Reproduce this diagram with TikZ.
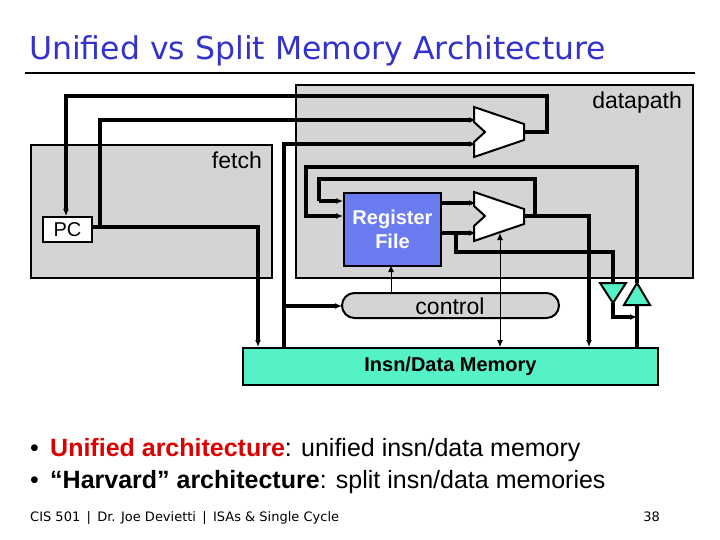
\documentclass[tikz,border=0pt]{standalone}
\usepackage{fontspec}
\setmainfont{Liberation Sans}
\newfontfamily\tahoma{DejaVu Sans}
\usetikzlibrary{arrows.meta}
\definecolor{boxgray}{HTML}{D4D4D4}
\definecolor{rfblue}{HTML}{6A7CF0}
\definecolor{memgreen}{HTML}{55F2C8}
\definecolor{titleblue}{HTML}{3333CC}
\definecolor{bulred}{HTML}{DD0000}
\tikzset{
  wire/.style={line width=3.4pt},
  thin/.style={line width=1pt},
  arr/.style={-{Latex[length=7pt,width=6pt]}},
  block/.style={draw, line width=2pt},
  lbl/.style={font=\fontsize{23}{23}\selectfont, inner sep=0pt},
}
\begin{document}
\begin{tikzpicture}[x=1pt,y=-1pt]
\useasboundingbox (0,0) rectangle (720,540);
% title
\node[anchor=base west, inner sep=0pt, text=titleblue, font=\tahoma\fontsize{31.5}{31.5}\selectfont] (title) at (29,60) {Unified vs Split Memory Architecture};
\draw[line width=2.5pt] (25,73) -- (695,73);
% boxes
\node[block, fill=boxgray, minimum width=397pt, minimum height=193pt, anchor=north west] (dp) at (295,84) {};
\node[block, fill=boxgray, minimum width=241pt, minimum height=133pt, anchor=north west] (fe) at (30,144) {};
\node[lbl, anchor=north east] (dpl) at (682,92) {datapath};
\node[lbl, anchor=north east] (fel) at (262,152) {fetch};
\node[block, fill=white, minimum width=49pt, minimum height=25pt, anchor=north west, font=\fontsize{20}{20}\selectfont] (pc) at (42,216) {PC};
\node[block, fill=rfblue, minimum width=97pt, minimum height=73pt, anchor=north west, text=white, align=center, font=\bfseries\fontsize{20}{24}\selectfont] (rf) at (343,192) {Register\\File};
\node[block, fill=memgreen, minimum width=415pt, minimum height=37pt, anchor=north west, font=\bfseries\fontsize{20}{20}\selectfont] (mem) at (242,347) {Insn/Data Memory};
\draw[block, fill=boxgray, rounded corners=12.5pt] (342,293) rectangle (559,318);
\node[lbl] (ctl) at (450,306) {control};
% ALUs
\draw[block, fill=white] (474,107) -- (524,124) -- (524,140) -- (474,157) -- (474,142) -- (485,132) -- (474,122) -- cycle;
\draw[block, fill=white] (474,192) -- (524,209) -- (524,224) -- (474,241) -- (474,226) -- (485,216) -- (474,206) -- cycle;
\coordinate (a1o) at (524,132);
\coordinate (a2o) at (524,216);
% buffers
\draw[block, fill=memgreen] (600,283) -- (626,283) -- (613,303) -- cycle;
\draw[block, fill=memgreen] (624,305) -- (650,305) -- (637,283) -- cycle;
% fetch wires
\draw[wire, arr] (a1o) -- (547,132) -- (547,96) -- (66,96) -- (pc.north -| 66,0);
\draw[wire, arr] (100,227) -- (100,120) -- (476,120);
\draw[wire, arr] (pc.east |- 0,227) -- (258,227) -- (258,347);
\draw[wire, arr] (284,347) -- (284,144) -- (476,144);
\draw[wire, arr] (284,306) -- (342,306);
% datapath wires
\draw[wire, arr] (440,203) -- (476,203);
\draw[wire, arr] (440,233) -- (476,233);
\draw[wire] (a2o) -- (535,216) -- (535,179) -- (319,179) -- (319,201);
\draw[wire, arr] (319,201) -- (343,201);
\draw[wire, arr] (535,216) -- (589,216) -- (589,347);
\draw[wire] (456,233) -- (456,252) -- (613,252) -- (613,283);
\draw[wire, arr] (613,303) -- (613,317) -- (637,317);
\draw[wire] (637,347) -- (637,305);
\draw[wire, arr] (637,283) -- (637,167) -- (306,167) -- (306,216) -- (343,216);
% control wires
\draw[thin, arr] (391,293) -- (391,265);
\draw[thin, {Latex[length=7pt,width=6pt]}-{Latex[length=7pt,width=6pt]}] (500,233) -- (500,347);
% bullets
\node[anchor=base west, inner sep=0pt, font=\fontsize{25}{25}\selectfont] (b1) at (30,456) {\textbullet\hspace{0.45em}\textcolor{bulred}{\bfseries Unified architecture}: unified insn/data memory};
\node[anchor=base west, inner sep=0pt, font=\fontsize{25}{25}\selectfont] (b2) at (30,488) {\textbullet\hspace{0.45em}{\bfseries “Harvard” architecture}: split insn/data memories};
% footer
\node[anchor=base west, inner sep=0pt, font=\tahoma\fontsize{13}{13}\selectfont] (ft) at (30,521) {CIS 501 \,|\, Dr. Joe Devietti \,|\, ISAs \& Single Cycle};
\node[anchor=base east, inner sep=0pt, font=\tahoma\fontsize{13}{13}\selectfont] (pg) at (660,521) {38};
\end{tikzpicture}
\end{document}
